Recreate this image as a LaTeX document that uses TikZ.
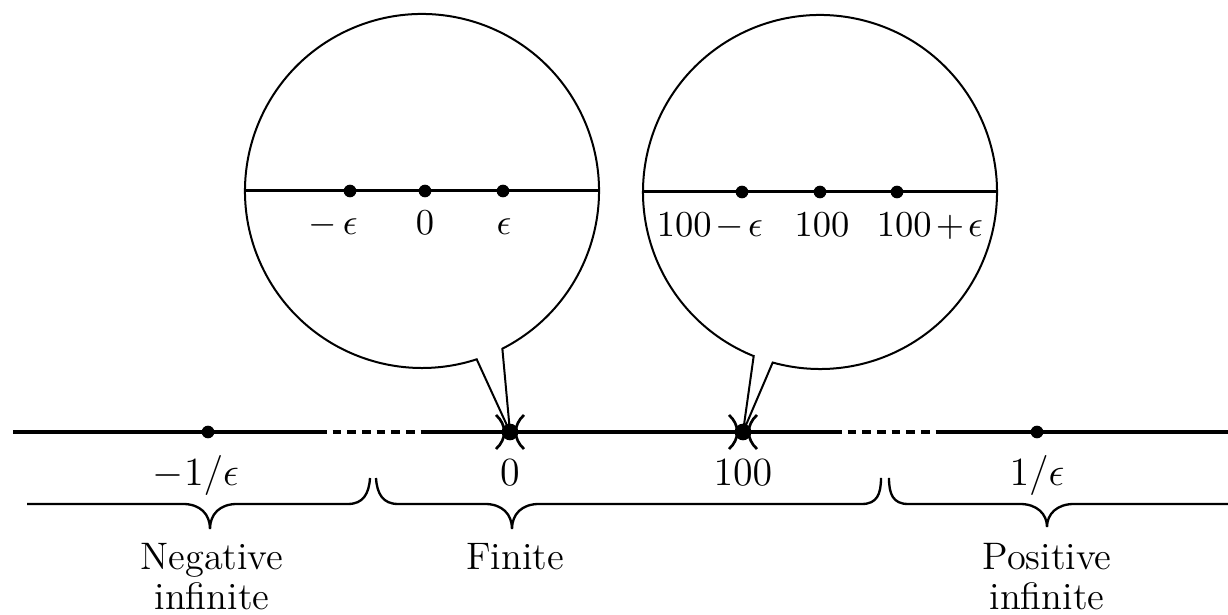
\documentclass[tikz,border=0pt]{standalone}
\usepackage{amsmath,amssymb}
\usepackage{tikz}

\begin{document}
\begin{tikzpicture}[x=0.3pt,y=0.3pt,
  realline/.style={line width=1.1pt},
  gapline/.style={line width=1.1pt,dash pattern=on 2.6pt off 1.8pt},
  bubble/.style={line width=0.6pt,line join=miter},
  bracepath/.style={line width=0.7pt},
  dot/.style={circle,fill,inner sep=0pt,minimum size=3.8pt},
  bigdot/.style={circle,fill,inner sep=0pt,minimum size=5pt},
  lbl/.style={font=\fontsize{12}{14}\selectfont,anchor=base},
  zlbl/.style={font=\fontsize{11}{13}\selectfont,anchor=base},
  region/.style={font=\fontsize{11.5}{12}\selectfont,anchor=north,inner sep=0pt,align=center}]
\useasboundingbox (0,0) rectangle (1228,615);

% points on the real line
\node[dot] (negrecip) at (208,183) {};
\node[bigdot] (zero) at (510,183) {};
\node[bigdot] (hundred) at (743,183) {};
\node[dot] (posrecip) at (1037,183) {};

% magnifying bubbles
\draw[bubble] (422,424) ++(-63:177) arc[start angle=-63,end angle=288,radius=177] -- (zero.center) -- cycle;
\draw[bubble] (820,423) ++(-105.5:177) arc[start angle=-105.5,end angle=248,radius=177] -- (hundred.center) -- cycle;
\draw[line width=0.9pt] (245,424) -- (599,424);
\draw[line width=0.9pt] (643,423) -- (997,423);
\foreach \x/\n in {350/lme,425/lmz,503/lpe}{
  \node[dot] (\n) at (\x,424) {};
}
\foreach \x/\n in {742/hme,820/hmz,897/hpe}{
  \node[dot] (\n) at (\x,423) {};
}
\node[zlbl] (tlme) at (333,380) {$-\,\epsilon$};
\node[zlbl] (tlmz) at (425,380) {$0$};
\node[zlbl] (tlpe) at (504,380) {$\epsilon$};
\node[zlbl] (thme) at (710,378) {$100\mskip2mu{-}\mskip2mu\epsilon$};
\node[zlbl] (thmz) at (822,378) {$100$};
\node[zlbl] (thpe) at (930,378) {$100\mskip2mu{+}\mskip2mu\epsilon$};

% the line
\draw[realline] (13,183) -- (318,183);
\draw[gapline] (318,183) -- (425,183);
\draw[realline] (425,183) -- (833,183);
\draw[gapline] (833,183) -- (943,183);
\draw[realline] (943,183) -- (1228,183);
\foreach \x in {510,743}{
  \draw[line width=0.8pt] (\x-14,200) .. controls (\x-3,190) and (\x-3,176) .. (\x-14,166);
  \draw[line width=0.8pt] (\x+14,200) .. controls (\x+3,190) and (\x+3,176) .. (\x+14,166);
}
\node[lbl] (tnegrecip) at (196,129) {$-1/\epsilon$};
\node[lbl] (tzero) at (510,129) {$0$};
\node[lbl] (thundred) at (743,129) {$100$};
\node[lbl] (tposrecip) at (1037,129) {$1/\epsilon$};

% braces
\draw[bracepath] (27,111) -- (183,111) .. controls (200,111) and (210,101) .. (210,86)
  .. controls (210,101) and (220,111) .. (237,111) -- (348,111)
  .. controls (363,111) and (369,121) .. (370,137);
\draw[bracepath] (376,137) .. controls (377,121) and (383,111) .. (398,111) -- (485,111)
  .. controls (502,111) and (512,101) .. (512,86) .. controls (512,101) and (522,111) .. (539,111)
  -- (862,111) .. controls (877,111) and (881,121) .. (881,137);
\draw[bracepath] (889,137) .. controls (889,121) and (893,111) .. (908,111) -- (1020,111)
  .. controls (1037,111) and (1047,101) .. (1047,88) .. controls (1047,101) and (1057,111) .. (1074,111)
  -- (1228,111);
\node[region] (neg) at (212,72) {Negative\\infinite};
\node[region] (fin) at (515,72) {Finite};
\node[region] (pos) at (1047,72) {Positive\\infinite};
\end{tikzpicture}
\end{document}
